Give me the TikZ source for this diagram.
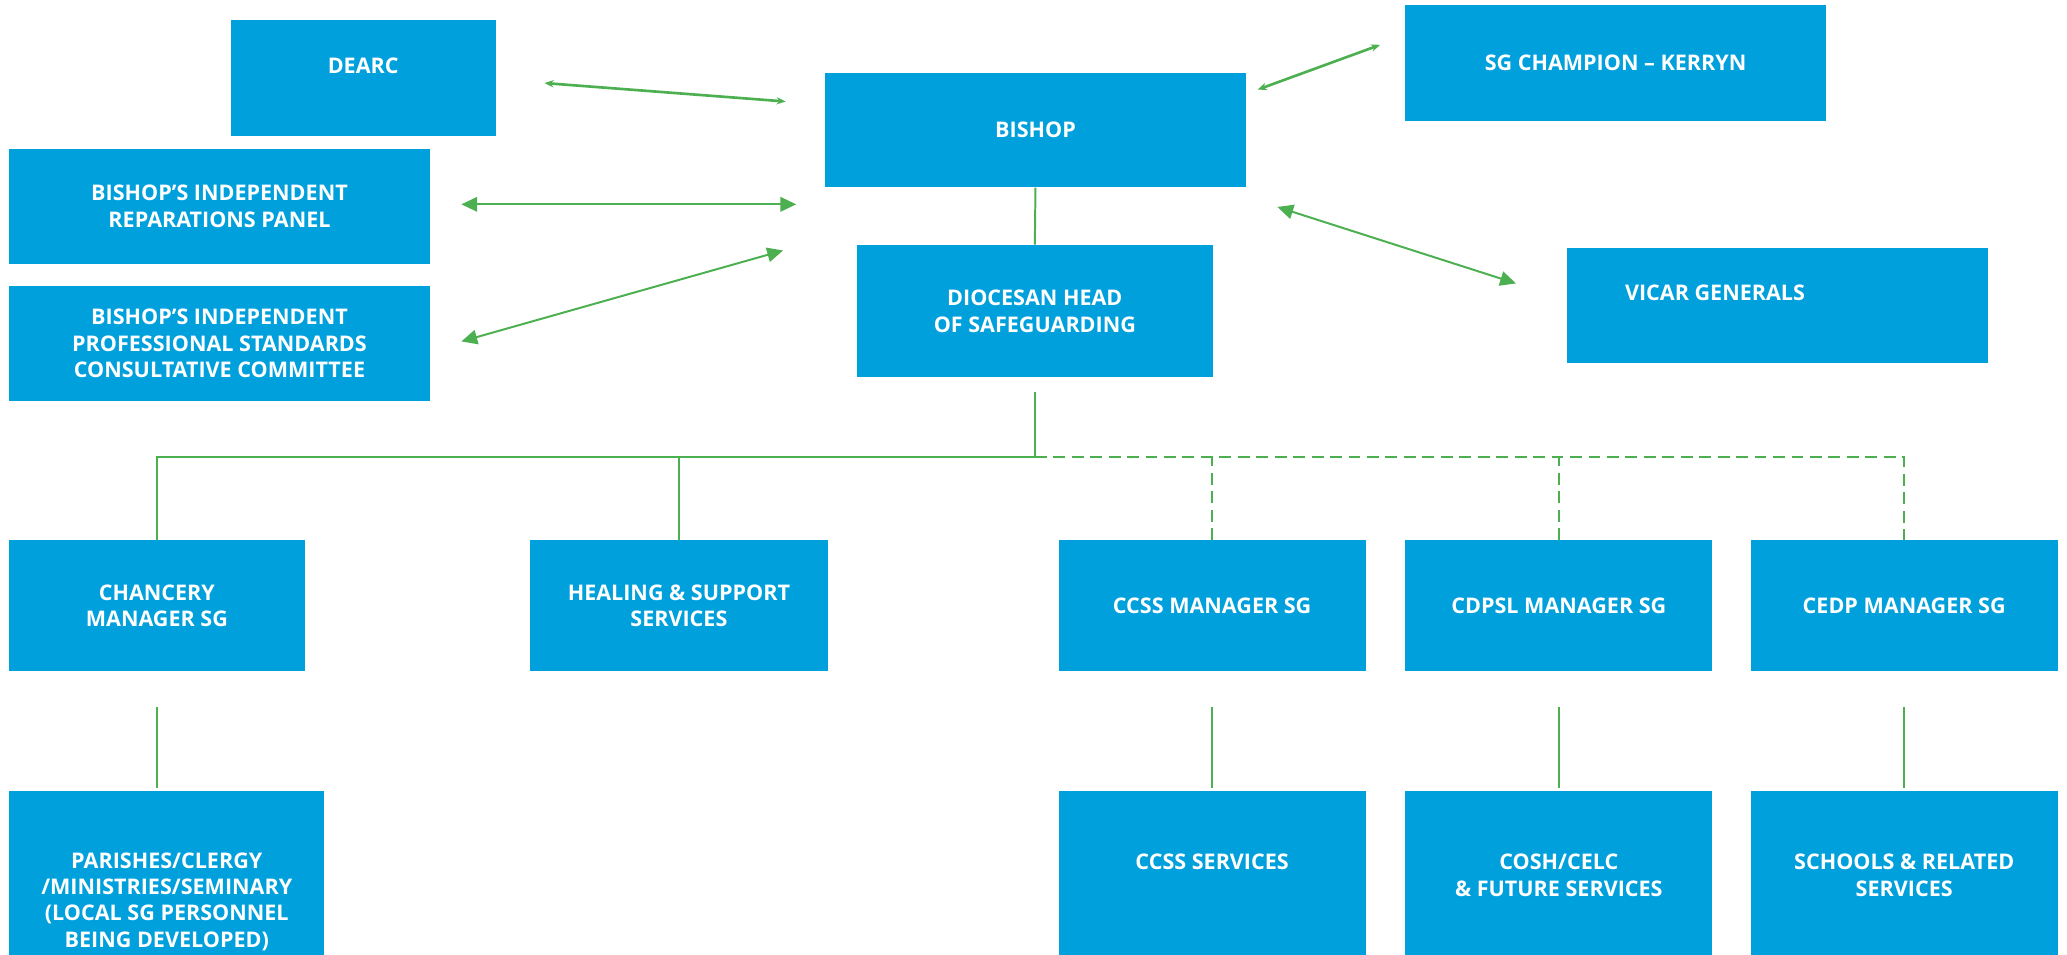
\documentclass[tikz,border=0pt]{standalone}
\usepackage{fontspec}
\setmainfont{Open Sans}
\usetikzlibrary{positioning, arrows.meta}

\definecolor{boxblue}{RGB}{0,160,220}
\definecolor{linkgreen}{RGB}{76,175,80}

\tikzset{
  box/.style={fill=boxblue, inner sep=0pt},
  txt/.style={text=white, font=\bfseries\fontsize{9.3}{11.4}\selectfont, align=center, inner sep=0pt},
  link/.style={draw=linkgreen, line width=0.3mm},
  bigarrow/.style={link, {Triangle[length=2.4mm,width=2.2mm]}-{Triangle[length=2.4mm,width=2.2mm]}},
  smallarrow/.style={link, line width=0.4mm, {Stealth[length=1.4mm,width=1.1mm]}-{Stealth[length=1.4mm,width=1.1mm]}},
}

\begin{document}
\begin{tikzpicture}[x=0.2mm, y=-0.2mm]
    \useasboundingbox (0,0) rectangle (1568,724);
    \clip (0,0) rectangle (1568,724);
    % top part
    \node[box, minimum width=40.2mm, minimum height=17.6mm] (dearc) at (275.5,59) {};
    \node[txt] (dearctxt) at (275.5,50) {DEARC};
    \node[box, txt, minimum width=63.8mm, minimum height=17.4mm] (bishop) at (785.5,98.5) {BISHOP};
    \node[box, txt, minimum width=63.8mm, minimum height=17.6mm] (champion) at (1225.5,48) {SG CHAMPION -- KERRYN};
    \node[box, txt, minimum width=63.8mm, minimum height=17.4mm] (reparations) at (166.5,156.5) {BISHOP'S INDEPENDENT\\REPARATIONS PANEL};
    \node[box, txt, minimum width=63.8mm, minimum height=17.4mm] (standards) at (166.5,260.5) {BISHOP'S INDEPENDENT\\PROFESSIONAL STANDARDS\\CONSULTATIVE COMMITTEE};
    \node[box, txt, minimum width=54mm, minimum height=20mm] (head) at (785,236) {DIOCESAN HEAD\\OF SAFEGUARDING};
    \node[box, minimum width=63.8mm, minimum height=17.4mm] (vicar) at (1348.5,231.5) {};
    \node[txt] (vicartxt) at (1301,222) {VICAR GENERALS};

    % managers
    \node[box, txt, minimum width=44.8mm, minimum height=19.8mm] (chancery) at (119,459.5) {CHANCERY\\MANAGER SG};
    \node[box, txt, minimum width=45.2mm, minimum height=19.8mm] (healing) at (515,459.5) {HEALING \& SUPPORT\\SERVICES};
    \node[box, txt, minimum width=46.6mm, minimum height=19.8mm] (ccssman) at (919.5,459.5) {CCSS MANAGER SG};
    \node[box, txt, minimum width=46.6mm, minimum height=19.8mm] (cdpslman) at (1182.5,459.5) {CDPSL MANAGER SG};
    \node[box, txt, minimum width=46.6mm, minimum height=19.8mm] (cedpman) at (1444.5,459.5) {CEDP MANAGER SG};

    % services
    \node[box, minimum width=47.8mm, minimum height=28mm] (parishes) at (126.5,670) {};
    \node[txt] (parishestxt) at (126.5,684) {PARISHES/CLERGY\\/MINISTRIES/SEMINARY\\(LOCAL SG PERSONNEL\\BEING DEVELOPED)};
    \node[box, minimum width=46.6mm, minimum height=28mm] (ccssserv) at (919.5,670) {};
    \node[txt] (ccssservtxt) at (919.5,654) {CCSS SERVICES};
    \node[box, minimum width=46.6mm, minimum height=28mm] (cosh) at (1182.5,670) {};
    \node[txt] (coshtxt) at (1182.5,664) {COSH/CELC\\\& FUTURE SERVICES};
    \node[box, minimum width=46.6mm, minimum height=28mm] (schools) at (1444.5,670) {};
    \node[txt] (schoolstxt) at (1444.5,664) {SCHOOLS \& RELATED\\SERVICES};

    % arrows to the bishop
    \coordinate (d1) at (413,63);   \coordinate (d2) at (596,77);
    \coordinate (r1) at (350,155);  \coordinate (r2) at (604,155);
    \coordinate (s1) at (350,259);  \coordinate (s2) at (594,190);
    \coordinate (c1) at (954,68);   \coordinate (c2) at (1047,34);
    \coordinate (v1) at (969,157);  \coordinate (v2) at (1150,215);
    \draw[smallarrow] (d1) -- (d2);
    \draw[bigarrow] (r1) -- (r2);
    \draw[bigarrow] (s1) -- (s2);
    \draw[smallarrow] (c1) -- (c2);
    \draw[bigarrow] (v1) -- (v2);

    % tree
    \coordinate (hub) at (785,347);
    \draw[link] (bishop.south) -- (head.north);
    \draw[link, shorten <=2.2mm] (head.south) -- (hub);
    \draw[link] (hub) -| (chancery.north);
    \draw[link] (healing.north) -- (healing.north |- hub);
    \draw[link, dash pattern=on 1.8mm off 1mm] (hub) -| (cedpman.north);
    \draw[link, dash pattern=on 1.8mm off 1mm] (ccssman.north) -- (ccssman.north |- hub);
    \draw[link, dash pattern=on 1.8mm off 1mm] (cdpslman.north) -- (cdpslman.north |- hub);

    \draw[link, shorten <=5.4mm, shorten >=0.4mm] (chancery.south) -- (chancery.south |- parishes.north);
    \draw[link, shorten <=5.4mm, shorten >=0.4mm] (ccssman.south) -- (ccssserv.north);
    \draw[link, shorten <=5.4mm, shorten >=0.4mm] (cdpslman.south) -- (cosh.north);
    \draw[link, shorten <=5.4mm, shorten >=0.4mm] (cedpman.south) -- (schools.north);
\end{tikzpicture}
\end{document}
